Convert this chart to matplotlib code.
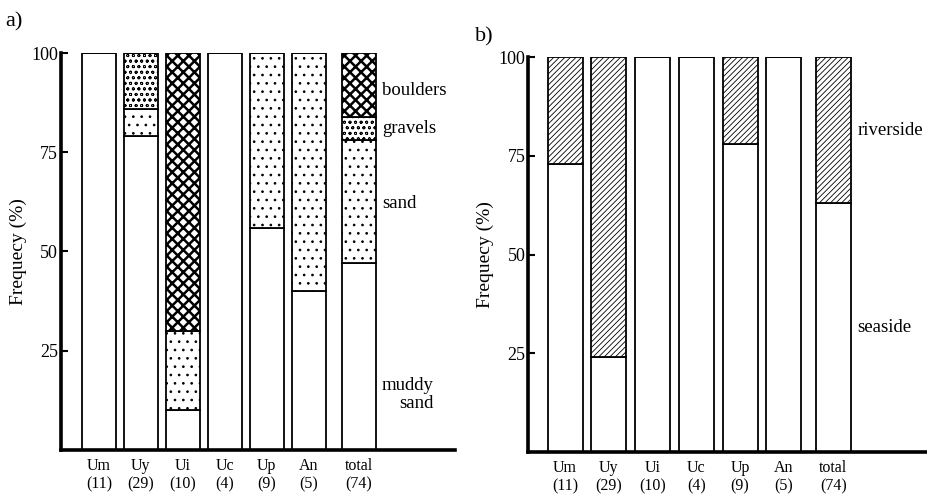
import matplotlib
matplotlib.use("Agg")
import matplotlib.pyplot as plt

plt.rcParams["font.family"] = ["Liberation Serif", "DejaVu Serif"]
plt.rcParams["hatch.linewidth"] = 0.7

CATEGORIES = ["Um", "Uy", "Ui", "Uc", "Up", "An", "total"]
COUNTS = ["(11)", "(29)", "(10)", "(4)", "(9)", "(5)", "(74)"]

# panel a: substrate composition (% of sites), stacked bottom to top
MUDDY_SAND = [100, 79, 10, 100, 56, 40, 47]
SAND = [0, 7, 20, 0, 44, 60, 31]
GRAVELS = [0, 14, 0, 0, 0, 0, 6]
BOULDERS = [0, 0, 70, 0, 0, 0, 16]

# panel b: location (% of sites)
SEASIDE = [73, 24, 100, 100, 78, 100, 63]
RIVERSIDE = [27, 76, 0, 0, 22, 0, 37]

POS_A = [0, 1, 2, 3, 4, 5, 6.19]
POS_B = [0, 1, 2, 3, 4, 5, 6.13]


def _style_axis(ax, xlim):
    ax.set_xlim(*xlim)
    ax.set_ylim(0, 100)
    for side in ("top", "right"):
        ax.spines[side].set_visible(False)
    ax.spines["left"].set_linewidth(2.6)
    ax.spines["bottom"].set_linewidth(2.6)
    ax.set_yticks([25, 50, 75, 100])
    ax.tick_params(axis="y", direction="in", length=5, width=1.5, labelsize=13, pad=2)
    ax.tick_params(axis="x", length=0, labelsize=11.5, pad=6)
    ax.set_ylabel("Frequecy (%)", fontsize=14, labelpad=3)


def _stack(ax, pos, layers, width):
    bottom = [0] * len(pos)
    for values, hatch, hlw in layers:
        bars = ax.bar(pos, values, width=width, bottom=bottom, color="white",
                      edgecolor="black", linewidth=1.3, hatch=hatch)
        if hatch and hasattr(bars[0], "set_hatch_linewidth"):
            for b in bars:
                b.set_hatch_linewidth(hlw)
        bottom = [b + v for b, v in zip(bottom, values)]


fig = plt.figure(figsize=(9.28, 4.94), dpi=100)

ax_a = fig.add_axes([0.0657, 0.0891, 0.4246, 0.8036])
_stack(ax_a, POS_A, [(MUDDY_SAND, None, 0), (SAND, "..", 0.7),
                     (GRAVELS, "ooo", 0.6), (BOULDERS, "xxx", 1.8)], width=0.81)
_style_axis(ax_a, (-0.905, 8.48))
ax_a.set_xticks(POS_A)
ax_a.set_xticklabels([f"{c}\n{n}" for c, n in zip(CATEGORIES, COUNTS)])
ax_a.text(6.74, 90.5, "boulders", fontsize=13.5, va="center", ha="left")
ax_a.text(6.74, 81, "gravels", fontsize=13.5, va="center", ha="left")
ax_a.text(6.74, 62, "sand", fontsize=13.5, va="center", ha="left")
ax_a.text(6.74, 14, "muddy\nsand", fontsize=13.5, va="center", ha="left",
          multialignment="right", linespacing=1.1)
fig.text(0.006, 0.955, "a)", fontsize=16, va="center", ha="left")

ax_b = fig.add_axes([0.569, 0.085, 0.431, 0.7996])
_stack(ax_b, POS_B, [(SEASIDE, None, 0), (RIVERSIDE, "//////", 0.6)], width=0.8)
_style_axis(ax_b, (-0.85, 8.3))
ax_b.set_xticks(POS_B)
ax_b.set_xticklabels([f"{c}\n{n}" for c, n in zip(CATEGORIES, COUNTS)])
ax_b.text(6.68, 81.5, "riverside", fontsize=13.5, va="center", ha="left")
ax_b.text(6.68, 31.5, "seaside", fontsize=13.5, va="center", ha="left")
fig.text(0.512, 0.925, "b)", fontsize=16, va="center", ha="left")

fig.savefig("out.png", dpi=100)
